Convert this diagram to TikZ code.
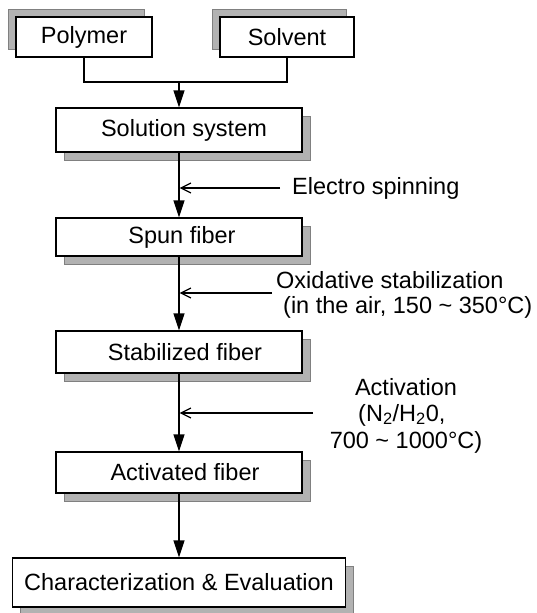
\documentclass[tikz,border=0pt]{standalone}
\usepackage{fontspec}
\setmainfont{Liberation Sans}
\usetikzlibrary{arrows.meta,shadows}
\newcommand\fsz{\fontsize{23.5}{27.5}\selectfont}
\begin{document}
\begin{tikzpicture}[x=1pt,y=-1pt,
  box/.style={draw=black, line width=1.2pt, fill=white, inner sep=0pt, font=\fsz},
  shdr/.style={general shadow={shadow xshift=8pt, shadow yshift=-8pt, fill=black!30, draw=black!50, line width=0.8pt}},
  shul/.style={general shadow={shadow xshift=-8pt, shadow yshift=8pt, fill=black!30, draw=black!50, line width=0.8pt}},
  conn/.style={line width=1.2pt},
  main/.style={line width=1.2pt, -{Triangle[length=17pt,width=11pt]}},
  side/.style={line width=1.2pt, -{Straight Barb[length=10pt,width=10pt]}},
  lbl/.style={font=\fsz, inner sep=0pt}]
\useasboundingbox (0,0) rectangle (537,613);
% boxes
\node[box, shul, minimum width=136pt, minimum height=40pt] (poly) at (84,37) {Polymer};
\node[box, shul, minimum width=134pt, minimum height=40pt] (solv) at (287,37) {Solvent};
\node[box, shdr, minimum width=246pt, minimum height=44pt] (sol) at (179,130) {\hspace*{10pt}Solution system};
\node[box, shdr, minimum width=246pt, minimum height=38pt] (spun) at (179,237) {\hspace*{6pt}Spun fiber};
\node[box, shdr, minimum width=246pt, minimum height=42pt] (stab) at (179,352) {\hspace*{12pt}Stabilized fiber};
\node[box, shdr, minimum width=246pt, minimum height=41pt] (act) at (179,472.5) {\hspace*{12pt}Activated fiber};
\node[box, shdr, minimum width=333pt, minimum height=49pt] (char) at (179,582.5) {Characterization \& Evaluation};
% merge connector
\coordinate (j) at (179,82);
\draw[conn] (poly.south) |- (j);
\draw[conn] (solv.south) |- (j);
\draw[main] (j) -- (sol.north);
% main flow
\draw[main] (sol.south) -- (spun.north);
\draw[main] (spun.south) -- (stab.north);
\draw[main] (stab.south) -- (act.north);
\draw[main] (act.south) -- (char.north);
% side inputs
\coordinate (e1) at (280,188);
\coordinate (t1) at (179.6,188);
\draw[side] (e1) -- (t1);
\node[lbl, anchor=west] (elec) at (292,188) {Electro spinning};
\coordinate (e2) at (272,293);
\coordinate (t2) at (179.6,293);
\draw[side] (e2) -- (t2);
\node[lbl, anchor=west] (ox1) at (276,280) {Oxidative stabilization};
\node[lbl, anchor=west] (ox2) at (283,307) {(in the air, 150 \textasciitilde{} 350°C)};
\coordinate (e3) at (313,413);
\coordinate (t3) at (179.6,413);
\draw[side] (e3) -- (t3);
\node[lbl] (ac1) at (406,387) {Activation};
\node[lbl, anchor=west] (ac2) at (358,415) {(N\textsubscript{2}/H\textsubscript{2}0,};
\node[lbl] (ac3) at (406,442) {700 \textasciitilde{} 1000°C)};
\end{tikzpicture}
\end{document}
